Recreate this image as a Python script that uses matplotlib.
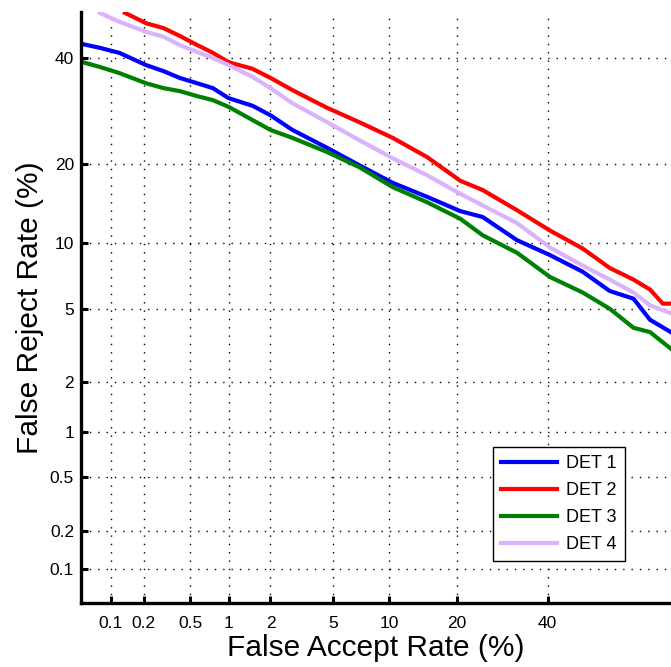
import math
import numpy as np
from matplotlib import pyplot as plt

# DET curves, all values in percent
far_det1 = [0.053, 0.078, 0.12, 0.21, 0.3, 0.41, 0.57, 0.76, 1.0, 1.5, 2.0, 2.8, 4.6,
            7.0, 10.4, 15, 20.6, 25, 32.6, 40.6, 49, 56, 62, 66, 70.8]
frr_det1 = [43.0, 42.2, 41.1, 38.5, 37.2, 35.8, 34.7, 33.7, 31.7, 30.2, 28.4, 25.7, 22.6,
            19.8, 17.2, 15.3, 13.5, 12.8, 10.3, 8.9, 7.5, 6.1, 5.6, 4.4, 3.8]

far_det2 = [0.135, 0.21, 0.3, 0.41, 0.57, 0.76, 1.0, 1.5, 2.0, 2.8, 4.6, 7.0, 10.4,
            15, 20.6, 25, 32.6, 40.6, 49, 56, 62, 66, 69, 70.8]
frr_det2 = [49.9, 47.6, 46.5, 44.8, 42.8, 41.1, 39.1, 37.7, 35.8, 33.3, 29.8, 27.1, 24.3,
            21.1, 17.5, 16.2, 13.6, 11.3, 9.5, 7.8, 6.9, 6.2, 5.3, 5.3]

far_det3 = [0.053, 0.078, 0.12, 0.21, 0.3, 0.41, 0.57, 0.76, 1.0, 1.5, 2.0, 2.8, 4.6,
            7.0, 10.4, 15, 20.6, 25, 32.6, 40.6, 49, 56, 62, 66, 70.8]
frr_det3 = [39.1, 38.1, 36.8, 34.7, 33.7, 33.1, 32.1, 31.3, 30.0, 27.5, 25.7, 24.3, 21.9,
            19.5, 16.6, 14.6, 12.6, 10.8, 9.1, 7.1, 6.0, 5.0, 4.0, 3.8, 3.1]

far_det4 = [0.078, 0.12, 0.21, 0.3, 0.41, 0.57, 0.76, 1.0, 1.5, 2.0, 2.8, 4.6, 7.0,
            10.4, 15, 20.6, 25, 32.6, 40.6, 49, 56, 62, 66, 70.8]
frr_det4 = [49.9, 47.9, 45.7, 44.6, 42.8, 41.3, 40.0, 38.5, 36.0, 33.7, 30.7, 27.1, 23.9,
            20.9, 18.3, 15.7, 14.2, 12.1, 9.6, 8.0, 6.9, 6.0, 5.2, 4.75]

ticks = [0.1, 0.2, 0.5, 1, 2, 5, 10, 20, 40]
tick_labels = ['0.1', '0.2', '0.5', '1', '2', '5', '10', '20', '40']
labels = ['DET 1', 'DET 2', 'DET 3', 'DET 4']
colors = ['#0000ff', '#ff0000', '#008000', '#d9b3fc']


#%% normal deviate scale (percent -> probit)

def ppf(p):
    # Acklam's approximation of the inverse normal cdf
    p = np.clip(np.asarray(p, dtype=float), 1e-12, 1 - 1e-12)
    a = [-3.969683028665376e+01, 2.209460984245205e+02, -2.759285104469687e+02,
         1.383577518672690e+02, -3.066479806614716e+01, 2.506628277459239e+00]
    b = [-5.447609879822406e+01, 1.615858368580409e+02, -1.556989798598866e+02,
         6.680131188771972e+01, -1.328068155288572e+01]
    c = [-7.784894002430293e-03, -3.223964580411365e-01, -2.400758277161838e+00,
         -2.549671348283881e+00, 4.374664141464968e+00, 2.938163982698783e+00]
    d = [7.784695709041462e-03, 3.224671290700398e-01, 2.445134137142996e+00,
         3.754408661907416e+00]
    plow = 0.02425
    out = np.zeros_like(p)
    lo = p < plow
    hi = p > 1 - plow
    mid = ~(lo | hi)
    q = np.sqrt(-2 * np.log(p[lo]))
    out[lo] = (((((c[0]*q + c[1])*q + c[2])*q + c[3])*q + c[4])*q + c[5]) / \
              ((((d[0]*q + d[1])*q + d[2])*q + d[3])*q + 1)
    q = np.sqrt(-2 * np.log(1 - p[hi]))
    out[hi] = -(((((c[0]*q + c[1])*q + c[2])*q + c[3])*q + c[4])*q + c[5]) / \
              ((((d[0]*q + d[1])*q + d[2])*q + d[3])*q + 1)
    q = p[mid] - 0.5
    r = q * q
    out[mid] = (((((a[0]*r + a[1])*r + a[2])*r + a[3])*r + a[4])*r + a[5]) * q / \
               (((((b[0]*r + b[1])*r + b[2])*r + b[3])*r + b[4])*r + 1)
    return out


_erf = np.vectorize(math.erf)


def forward(pct):
    return ppf(np.asarray(pct, dtype=float) / 100.0)


def inverse(z):
    z = np.asarray(z, dtype=float)
    return 50.0 * (1 + _erf(z / math.sqrt(2)))


#%% plot

plt.rcParams['font.family'] = ['Liberation Sans', 'DejaVu Sans']

fig = plt.figure(figsize=(6.71, 6.67), dpi=100)
ax = fig.add_axes([0.1207, 0.0955, 0.8793, 0.886])
ax.set_xscale('function', functions=(forward, inverse))
ax.set_yscale('function', functions=(forward, inverse))

series = [(far_det1, frr_det1), (far_det2, frr_det2), (far_det3, frr_det3), (far_det4, frr_det4)]
for (fx, fy), lab, col in zip(series, labels, colors):
    ax.plot(fx, fy, color=col, lw=3, label=lab, solid_joinstyle='round')

ax.set_xlim(0.051, 70.85)
ax.set_ylim(0.052, 50)

ax.set_xticks(ticks)
ax.set_xticklabels(tick_labels)
ax.set_yticks(ticks)
ax.set_yticklabels(tick_labels)
ax.minorticks_off()
ax.tick_params(direction='in', length=5, width=2.2, labelsize=12.5, color='black')
ax.tick_params(axis='x', pad=9)
ax.tick_params(axis='y', pad=5)

ax.grid(True, linestyle=(0, (1, 5)), color='black', lw=1.0)

for s in ['top', 'right']:
    ax.spines[s].set_visible(False)
for s in ['left', 'bottom']:
    ax.spines[s].set_linewidth(2.4)

ax.set_xlabel('False Accept Rate (%)', fontsize=21.5, labelpad=2)
ax.set_ylabel('False Reject Rate (%)', fontsize=21.5, labelpad=4)

leg = ax.legend(loc='lower left', bbox_to_anchor=(0.698, 0.0716), fontsize=13,
                handlelength=3.1, labelspacing=0.55, borderaxespad=0, fancybox=False,
                edgecolor='black', framealpha=1, handletextpad=0.5, borderpad=0.45)
leg.get_frame().set_linewidth(1.0)

fig.savefig('out.png', dpi=100)
